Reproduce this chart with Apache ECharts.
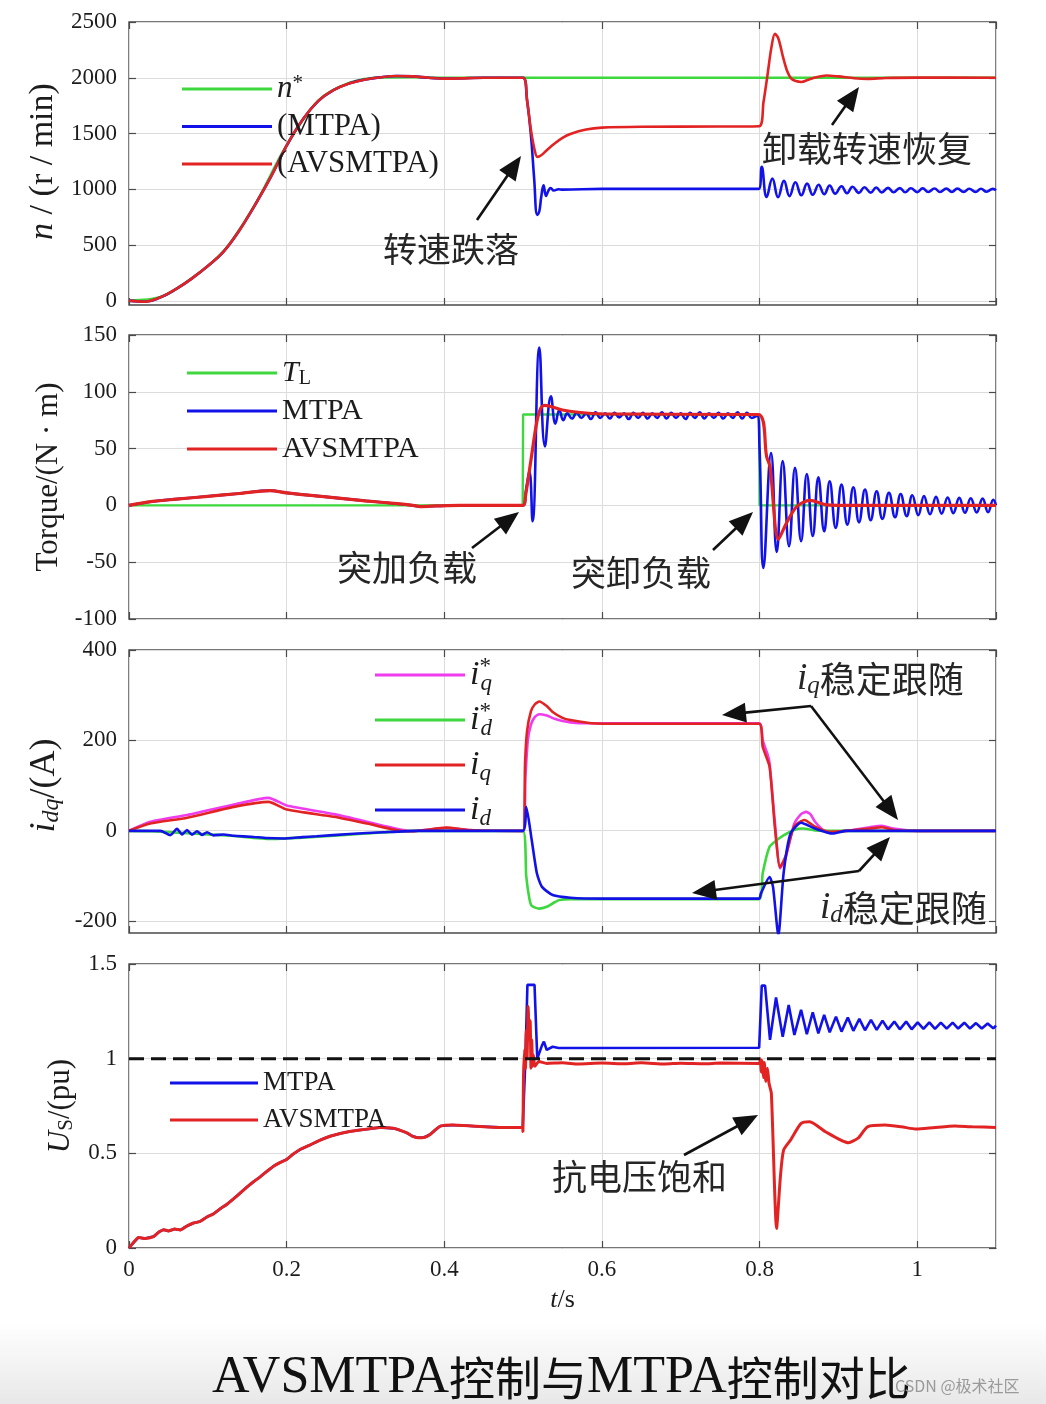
<!DOCTYPE html>
<html><head><meta charset="utf-8">
<script src="https://cdn.jsdelivr.net/npm/echarts@6/dist/echarts.min.js"></script>
<style>html,body{margin:0;padding:0;background:#fff;overflow:hidden}#c{width:1046px;height:1404px}</style>
</head><body><div id="c"></div>
<script>
// ---------------- DATA (time s, value) ----------------
const speedStartup = [[0,0],[0.02,-10],[0.04,30],[0.06,105],[0.08,200],[0.10,310],[0.12,440],[0.14,630],[0.16,860],[0.18,1110],[0.20,1390],[0.22,1620],[0.24,1790],[0.26,1890],[0.28,1950],[0.30,1985],[0.32,2005],[0.34,2015],[0.36,2012],[0.38,2000],[0.40,1992],[0.42,1994],[0.45,2000],[0.4998,2000]];
const speedRef = [[0,0],[0.04,32],[0.08,202],[0.12,444],[0.16,864],[0.20,1394],[0.24,1794],[0.28,1955],[0.32,2002],[0.36,2004],[0.40,2000],[1.1,2000]];
const speedMTPAload = [[0.505,1800],[0.51,1480],[0.514,1100],[0.518,770],[0.5205,800],[0.523,930],[0.526,1035],[0.529,940],[0.532,985],[0.535,1010],[0.539,988],[0.545,1000],[0.55,996],[0.6,1003],[0.7,1003],[0.799,1003],[0.8028,1200],[0.809,930],[0.8163,1095],[0.8235,928],[0.831,1075],[0.838,938],[0.8455,1062],[0.853,945],[0.8603,1050],[0.8675,950],[0.875,1040],[0.882,955],[0.889,1033],[0.896,960],[0.904,1027],[0.911,964],[0.918,1022],[0.926,967],[0.933,1018],[0.941,969],[0.948,1015],[0.955,971],[0.963,1012],[0.970,972],[0.978,1010],[0.985,973],[0.992,1008],[1.000,974],[1.007,1007],[1.014,975],[1.022,1006],[1.029,975],[1.037,1005],[1.044,976],[1.051,1005],[1.059,976],[1.066,1004],[1.074,976],[1.081,1004],[1.088,977],[1.096,1003],[1.1,990]];
const speedAVSload = [[0.505,1800],[0.51,1530],[0.515,1340],[0.518,1290],[0.523,1305],[0.53,1350],[0.54,1410],[0.55,1460],[0.56,1495],[0.58,1535],[0.60,1552],[0.65,1560],[0.75,1562],[0.7995,1565],[0.805,1780],[0.81,2020],[0.815,2270],[0.8195,2395],[0.824,2350],[0.83,2180],[0.835,2060],[0.84,1995],[0.846,1970],[0.853,1962],[0.862,1982],[0.872,2005],[0.885,2020],[0.90,2012],[0.92,1996],[0.937,1990],[0.96,1998],[1.0,2001],[1.1,2000]];

const torqueStartup = [[0,0],[0.03,3.5],[0.06,5.5],[0.10,8],[0.14,10.5],[0.179,13],[0.20,11],[0.25,7.5],[0.30,4],[0.34,1.5],[0.36,0],[0.37,-1],[0.39,-0.5],[0.42,0],[0.4998,0]];
const torqueTL = [[0,0],[0.4995,0],[0.5,80],[0.7995,80],[0.8,0],[1.1,0]];
const torqueMTPAload = [[0.504,15],[0.508,30],[0.512,-14],[0.5206,139],[0.5277,52],[0.5353,96],[0.541,72],[0.546,84],[0.551,75],[0.556,81],[0.562,76.5],[0.568,81.5],[0.574,77],[0.580,81],[0.586,76],[0.592,82],[0.598,77],[0.604,81],[0.610,76.5],[0.616,81.5],[0.622,77.5],[0.628,81],[0.634,76],[0.640,81.5],[0.646,77],[0.652,81.5],[0.658,76.5],[0.664,81],[0.670,77],[0.676,82],[0.682,76.5],[0.688,81.5],[0.694,77],[0.700,81],[0.706,76],[0.712,81.5],[0.718,77],[0.724,82],[0.730,76.5],[0.736,81],[0.742,77],[0.748,81.5],[0.754,76.5],[0.760,81],[0.766,77],[0.772,82],[0.778,76.5],[0.784,81.5],[0.790,77],[0.797,79],[0.8,50],[0.8049,-55],[0.8146,46],[0.8218,-41],[0.8294,39],[0.8374,-36],[0.845,33],[0.8527,-31.5],[0.86,27.7],[0.8675,-27],[0.8746,24.8],[0.882,-22.8],[0.889,21.2],[0.8966,-19.8],[0.904,18.3],[0.9114,-16.9],[0.919,16],[0.9262,-14.9],[0.9338,14],[0.941,-13.1],[0.9486,12.5],[0.9558,-11.9],[0.9642,11],[0.9719,-10.4],[0.979,10],[0.9867,-9.4],[0.9938,9],[1.0014,-8.6],[1.0086,8.2],[1.0163,-7.8],[1.0239,7.5],[1.031,-7.2],[1.0387,7],[1.0458,-6.8],[1.0534,6.6],[1.0606,-6.5],[1.068,6.3],[1.0755,-6.2],[1.083,6],[1.09,-6],[1.0966,5],[1.1,0]];
const torqueAVSload = [[0.503,8],[0.51,40],[0.517,72],[0.522,85],[0.527,88],[0.535,87],[0.55,84],[0.57,82],[0.6,80.5],[0.7985,80],[0.809,43],[0.8133,34],[0.8239,-30],[0.8345,-15],[0.8472,-1],[0.864,4.5],[0.885,0.5],[0.92,0],[1.1,0]];

const iqRef = [[0,0],[0.027,20],[0.074,35],[0.133,58],[0.177,73],[0.2,56],[0.26,37],[0.302,20],[0.344,3],[0.36,0],[0.403,6],[0.43,2],[0.4998,0],[0.503,120],[0.506,200],[0.51,235],[0.515,252],[0.5206,258],[0.53,255],[0.54,248],[0.55,243],[0.56,240],[0.58,238],[0.7995,238],[0.804,200],[0.81,170],[0.8127,150],[0.8194,20],[0.826,-83],[0.8327,-62],[0.8438,15],[0.852,36],[0.859,42],[0.865,36],[0.8704,20],[0.882,0],[0.89,-3],[0.91,0],[0.94,8],[0.955,11],[0.97,5],[1.0,0],[1.1,0]];
const idRef = [[0,0],[0.03,-1],[0.08,-6],[0.13,-11],[0.18,-18],[0.24,-13],[0.3,-6],[0.36,0],[0.4998,0],[0.504,-100],[0.508,-150],[0.511,-166],[0.52,-172],[0.53,-168],[0.54,-158],[0.546,-153],[0.56,-151],[0.7995,-151],[0.804,-94],[0.8127,-35],[0.8216,-21],[0.8305,-10],[0.8438,2],[0.855,5],[0.87,1],[0.9,0],[1.1,0]];
const iqAct = [[0,0],[0.027,16],[0.074,29],[0.133,53],[0.177,64],[0.2,47],[0.26,31],[0.302,16],[0.344,0],[0.36,-1],[0.403,7],[0.43,2],[0.4998,0],[0.5025,150],[0.505,220],[0.51,265],[0.515,280],[0.5206,286],[0.53,276],[0.5375,263],[0.55,250],[0.56,245],[0.5864,238],[0.6,237],[0.7995,237],[0.804,186],[0.8127,142],[0.8194,9],[0.826,-80],[0.8327,-58],[0.8438,9],[0.857,24],[0.8704,9],[0.888,-2],[0.91,0],[0.94,5],[0.955,8],[0.97,2],[1.0,0],[1.1,0]];
const idAct = [[0,0],[0.04,0],[0.0524,-9.6],[0.0609,4.5],[0.0672,-8],[0.0736,1.5],[0.0799,-8.5],[0.0863,-1],[0.0926,-9],[0.099,-3],[0.107,-10],[0.12,-8],[0.133,-11],[0.155,-13],[0.175,-16],[0.196,-17],[0.22,-14],[0.238,-12],[0.28,-7],[0.323,-3],[0.365,0],[0.4998,0],[0.504,53],[0.511,-21],[0.5175,-94],[0.524,-124],[0.5375,-142],[0.56,-148],[0.6,-150],[0.7995,-150],[0.8016,-139],[0.8127,-102],[0.8171,-124],[0.8239,-232],[0.8305,-94],[0.8393,-6],[0.8527,18],[0.8704,5],[0.8926,-6],[0.91,0],[1.1,0]];

const usStartup = [[0,0],[0.006,0.03],[0.012,0.055],[0.02,0.05],[0.031,0.06],[0.038,0.085],[0.044,0.097],[0.05,0.09],[0.058,0.1],[0.065,0.095],[0.073,0.115],[0.082,0.132],[0.09,0.14],[0.099,0.164],[0.107,0.18],[0.116,0.208],[0.124,0.23],[0.133,0.261],[0.141,0.29],[0.15,0.323],[0.158,0.35],[0.1665,0.376],[0.175,0.405],[0.1834,0.432],[0.192,0.452],[0.2,0.468],[0.208,0.495],[0.217,0.52],[0.23,0.545],[0.2426,0.57],[0.255,0.59],[0.268,0.605],[0.28,0.615],[0.2933,0.623],[0.306,0.63],[0.3187,0.637],[0.3356,0.632],[0.345,0.62],[0.3526,0.608],[0.36,0.59],[0.3673,0.582],[0.375,0.585],[0.382,0.6],[0.389,0.625],[0.395,0.644],[0.41,0.65],[0.44,0.643],[0.47,0.637],[0.4995,0.637]];
const usMTPAload = [[0.503,1.0],[0.5055,1.39],[0.5145,1.39],[0.518,1.0],[0.5195,0.99],[0.524,1.07],[0.5264,1.09],[0.53,1.046],[0.5375,1.063],[0.545,1.056],[0.7995,1.058],[0.8028,1.386],[0.807,1.386],[0.8133,1.099],[0.8209,1.323],[0.8294,1.116],[0.837,1.284],[0.8442,1.125],[0.8527,1.258],[0.86,1.129],[0.8675,1.245],[0.8746,1.134],[0.882,1.231],[0.889,1.139],[0.897,1.222],[0.904,1.143],[0.912,1.217],[0.919,1.147],[0.9266,1.21],[0.9338,1.15],[0.9414,1.205],[0.9486,1.152],[0.956,1.201],[0.963,1.155],[0.971,1.196],[0.978,1.155],[0.986,1.196],[0.993,1.155],[1.0006,1.192],[1.008,1.157],[1.0154,1.192],[1.0226,1.157],[1.030,1.19],[1.0374,1.159],[1.045,1.19],[1.052,1.159],[1.0598,1.19],[1.067,1.159],[1.0746,1.188],[1.082,1.159],[1.0894,1.186],[1.0966,1.16],[1.1,1.175]];
const usAVSload = [[0.4998,0.615],[0.5005,0.9],[0.502,1.05],[0.503,0.95],[0.504,1.15],[0.505,1.0],[0.5064,1.275],[0.508,1.1],[0.509,1.2],[0.51,0.95],[0.511,1.1],[0.512,0.96],[0.513,1.02],[0.515,0.96],[0.52,0.985],[0.53,0.975],[0.55,0.978],[0.57,0.972],[0.6,0.977],[0.63,0.973],[0.65,0.978],[0.68,0.972],[0.7,0.976],[0.73,0.973],[0.75,0.977],[0.7995,0.975],[0.801,1.0],[0.802,0.93],[0.803,0.99],[0.805,0.9],[0.806,0.98],[0.808,0.88],[0.81,0.95],[0.812,0.87],[0.815,0.817],[0.8216,0.103],[0.8265,0.38],[0.8305,0.517],[0.8393,0.57],[0.8527,0.658],[0.8638,0.667],[0.8837,0.614],[0.9127,0.556],[0.925,0.58],[0.937,0.64],[0.959,0.649],[0.98,0.64],[0.999,0.628],[1.02,0.635],[1.048,0.645],[1.07,0.64],[1.1,0.637]];
const usLimit = [[0,1],[1.1,1]];

const timeRange = [0, 1.1];
const timeStep = 0.2;
const speedTicks = {min: 0, max: 2500, step: 500};
const torqueTicks = {min: -100, max: 150, step: 50};
const currentTicks = {min: -200, max: 400, step: 200};
const voltageTicks = {min: 0, max: 1.5, step: 0.5};

// ---------------- STYLE ----------------
const FONT = "'Liberation Serif', 'Times New Roman', serif";
const CJK = "'Noto Sans CJK SC', sans-serif";
const TXT = '#1c1c1c';
const AX = '#4a4a4a';
const GRIDC = '#dcdcdc';
const COL = {green:'#3ed83e', blue:'#1212e8', red:'#e22323', magenta:'#ee3cee', black:'#111'};
const GL = 129, GR = 50;

const chart = echarts.init(document.getElementById('c'), null, {renderer:'canvas'});

function richSet(fs, lh) {
  const s = Math.round(fs * 0.68);
  const h = Math.round(lh * 0.5);
  return {
    it:{fontFamily:FONT,fontStyle:'italic',fontWeight:'normal',fontSize:fs,lineHeight:lh,color:TXT},
    rm:{fontFamily:FONT,fontWeight:'normal',fontSize:fs,lineHeight:lh,color:TXT},
    sup:{fontFamily:FONT,fontWeight:'normal',fontSize:s,lineHeight:h,verticalAlign:'top',color:TXT},
    supz:{fontFamily:FONT,fontWeight:'normal',fontSize:s,lineHeight:h,verticalAlign:'top',color:TXT,width:1},
    sub:{fontFamily:FONT,fontWeight:'normal',fontSize:s,lineHeight:h,verticalAlign:'bottom',color:TXT},
    subit:{fontFamily:FONT,fontStyle:'italic',fontWeight:'normal',fontSize:s,lineHeight:h,verticalAlign:'bottom',color:TXT},
    cjk:{fontFamily:CJK,fontWeight:'normal',fontSize:Math.round(fs*0.97),lineHeight:lh,color:'#2a2a2a'}
  };
}

const DISPLAY = {
  n_ref:'{it|n}{sup|*}', n_mtpa:'{rm|(MTPA)}', n_avs:'{rm|(AVSMTPA)}',
  t_ref:'{it|T}{sub|L}', t_mtpa:'{rm|MTPA}', t_avs:'{rm|AVSMTPA}',
  iq_ref:'{it|i}{supz|*}{subit|q}', id_ref:'{it|i}{supz|*}{subit|d}', iq:'{it|i}{subit|q}', id:'{it|i}{subit|d}',
  us_mtpa:'{rm|MTPA}', us_avs:'{rm|AVSMTPA}'
};

// grids: 0 speed data, 1 speed labels, 2 torque, 3 idq data, 4 idq labels, 5 Us
const gridBox = (top, height, show) => ({left:GL, right:GR, top, height, show, borderColor:AX, borderWidth:1.4, backgroundColor:'transparent', containLabel:false});
const grids = [gridBox(22,283,true), gridBox(22,279,false), gridBox(335,284,true), gridBox(650,283,true), gridBox(650,271,false), gridBox(964,284,true)];

const tickStyle = {inside:true, length:7, lineStyle:{color:AX, width:1.2}};
const labelStyle = {fontFamily:FONT, fontSize:23, color:TXT, margin:12, formatter:(v) => String(+v.toFixed(4))};

function xBottom(g, labels) {
  return {gridIndex:g, type:'value', min:timeRange[0], max:timeRange[1], interval:timeStep,
    axisLine:{show:false,onZero:false}, axisTick:tickStyle,
    axisLabel: labels ? Object.assign({}, labelStyle, {margin:10, showMaxLabel:false}) : {show:false},
    splitLine:{show:true, lineStyle:{color:GRIDC, width:1}},
    name: labels ? '{it|t}/s' : '', nameLocation:'middle', nameGap:38,
    nameTextStyle: {fontFamily:FONT, fontSize:26, color:TXT, rich: richSet(26, 28)}};
}
function xTop(g) {
  return {gridIndex:g, type:'value', position:'top', min:timeRange[0], max:timeRange[1], interval:timeStep,
    axisLine:{show:false,onZero:false}, axisTick:tickStyle, axisLabel:{show:false}, splitLine:{show:false}};
}
function xHidden(g) { return {gridIndex:g, type:'value', min:timeRange[0], max:timeRange[1], show:false}; }
function yHidden(g, min, max) { return {gridIndex:g, type:'value', min, max, show:false, axisLine:{onZero:false}}; }
function yLeft(g, t, name, gap, fs) {
  return {gridIndex:g, type:'value', min:t.min, max:t.max, interval:t.step,
    axisLine:{show:false,onZero:false}, axisTick:tickStyle, axisLabel:labelStyle,
    splitLine:{show:true, lineStyle:{color:GRIDC, width:1}},
    name, nameLocation:'middle', nameRotate:90, nameGap:gap,
    nameTextStyle:{fontFamily:FONT, fontSize:fs, color:TXT, rich: richSet(fs, fs+2)}};
}
function yRight(g, t) {
  return {gridIndex:g, type:'value', position:'right', min:t.min, max:t.max, interval:t.step,
    axisLine:{show:false,onZero:false}, axisTick:tickStyle, axisLabel:{show:false}, splitLine:{show:false}};
}

const xAxes = [xBottom(0,false), xTop(0), xHidden(1), xBottom(2,false), xTop(2), xBottom(3,false), xTop(3), xHidden(4), xBottom(5,true), xTop(5)];
const yAxes = [
  yHidden(0, -39, 2500),
  yLeft(1, speedTicks, '{it|n} / (r / min)', 67, 34), yRight(1, speedTicks),
  yLeft(2, torqueTicks, '{rm|Torque/(N · m)}', 64, 31), yRight(2, torqueTicks),
  yHidden(3, -226, 400),
  yLeft(4, currentTicks, '{it|i}{subit|dq}{rm|/(A)}', 62, 36), yRight(4, currentTicks),
  yLeft(5, voltageTicks, '{it|U}{sub|S}{rm|/(pu)}', 47, 31), yRight(5, voltageTicks)
];

function line(name, data, xi, yi, color, width, extra) {
  return Object.assign({type:'line', name, data, xAxisIndex:xi, yAxisIndex:yi, showSymbol:false, symbol:'none',
    color, itemStyle:{color}, lineStyle:{color, width}, animation:false, silent:true, clip:true,
    emphasis:{disabled:true}}, extra || {});
}
const osc = {smooth:0.45};
const series = [
  line('n_ref', speedRef, 0, 0, COL.green, 2.6, {smooth:0.3}),
  line('n_mtpa', speedStartup.concat(speedMTPAload), 0, 0, COL.blue, 2.6, osc),
  line('n_avs', speedStartup.concat(speedAVSload), 0, 0, COL.red, 2.6, {smooth:0.3}),
  line('t_ref', torqueTL, 3, 3, COL.green, 2.4),
  line('t_mtpa', torqueStartup.concat(torqueMTPAload), 3, 3, COL.blue, 2.6, osc),
  line('t_avs', torqueStartup.concat(torqueAVSload), 3, 3, COL.red, 3.2, {smooth:0.3}),
  line('iq_ref', iqRef, 5, 5, COL.magenta, 2.6, {smooth:0.2}),
  line('id_ref', idRef, 5, 5, COL.green, 2.6, {smooth:0.2}),
  line('iq', iqAct, 5, 5, COL.red, 2.6, {smooth:0.2}),
  line('id', idAct, 5, 5, COL.blue, 2.6, {smooth:0.2}),
  line('us_mtpa', usStartup.concat(usMTPAload), 8, 8, COL.blue, 2.6),
  line('us_avs', usStartup.concat(usAVSload), 8, 8, COL.red, 3, {smooth:0.2}),
  line('us_limit', usLimit, 8, 8, COL.black, 3, {lineStyle:{color:COL.black, width:3, type:[15,7]}})
];

function legendAt(names, left, centerY, lh, spacing, fs, iw) {
  return {data:names, left, top:centerY - lh/2, orient:'vertical', itemWidth:iw||90, itemHeight:3,
    itemGap:spacing - lh, icon:'rect', padding:0, selectedMode:false,
    itemStyle:{borderWidth:0},
    formatter:(n) => DISPLAY[n],
    textStyle:{fontFamily:FONT, fontSize:fs, lineHeight:lh, color:TXT, rich:richSet(fs, lh)}};
}
const legends = [
  legendAt(['n_ref','n_mtpa','n_avs'], 182, 89, 32, 37.5, 31),
  legendAt(['t_ref','t_mtpa','t_avs'], 187, 373, 32, 38, 30),
  legendAt(['iq_ref','id_ref','iq','id'], 375, 675, 40, 45, 34),
  legendAt(['us_mtpa','us_avs'], 170, 1083, 30, 37, 27, 88)
];

// ---------------- annotations ----------------
function arrow(x1, y1, x2, y2) {
  const dx = x2 - x1, dy = y2 - y1, len = Math.hypot(dx, dy), ux = dx/len, uy = dy/len;
  const hl = 24, hw = 10, bx = x2 - ux*hl, by = y2 - uy*hl;
  return [
    {type:'line', z:100, silent:true, shape:{x1, y1, x2:bx + ux*3, y2:by + uy*3}, style:{stroke:'#111', lineWidth:2.6}},
    {type:'polygon', z:100, silent:true, shape:{points:[[x2,y2],[bx - uy*hw, by + ux*hw],[bx + uy*hw, by - ux*hw]]}, style:{fill:'#111'}}
  ];
}
function label(text, x, y, fs) {
  return {type:'text', z:100, silent:true, x, y, style:{text, fontFamily:CJK, fontSize:fs, fill:'#262626', verticalAlign:'middle', align:'left',
    rich: richSet(fs + 2, fs + 4)}};
}
const annotations = [].concat(
  label('转速跌落', 383, 249, 34), arrow(477, 220, 521, 156),
  label('卸载转速恢复', 762, 149, 35), arrow(832, 125, 859, 87),
  label('突加负载', 337, 568, 35), arrow(472, 548, 519, 512),
  label('突卸负载', 571, 573, 35), arrow(713, 550, 753, 512),
  label('{it|i}{subit|q}{cjk|稳定跟随}', 797, 679, 35), arrow(811, 706, 722, 715), arrow(811, 706, 898, 820),
  label('{it|i}{subit|d}{cjk|稳定跟随}', 820, 908, 35), arrow(859, 871, 692, 893), arrow(859, 871, 890, 837),
  label('抗电压饱和', 552, 1177, 35), arrow(684, 1155, 758, 1115),
  [
    {type:'rect', z:-10, silent:true, shape:{x:0, y:1322, width:1046, height:82},
     style:{fill:new echarts.graphic.LinearGradient(0,0,0,1,[{offset:0,color:'#ffffff'},{offset:1,color:'#e8e8e8'}])}},
    {type:'text', z:100, silent:true, x:895, y:1386, style:{text:'CSDN @极术社区', fontFamily:CJK, fontSize:16, fill:'#9a9a9a', verticalAlign:'middle'}}
  ]
);

chart.setOption({
  animation:false,
  backgroundColor:'#ffffff',
  title:{text:'{lat|AVSMTPA}{cjk|控制与}{lat|MTPA}{cjk|控制对比}', left:207, top:1346,
    textStyle:{fontWeight:'normal', rich:{lat:{fontFamily:FONT, fontWeight:'normal', fontSize:52, color:'#111', lineHeight:54},
                     cjk:{fontFamily:CJK, fontWeight:'normal', fontSize:46, color:'#111', lineHeight:54}}}},
  grid:grids, xAxis:xAxes, yAxis:yAxes, legend:legends, series, graphic:annotations
});
</script></body></html>
